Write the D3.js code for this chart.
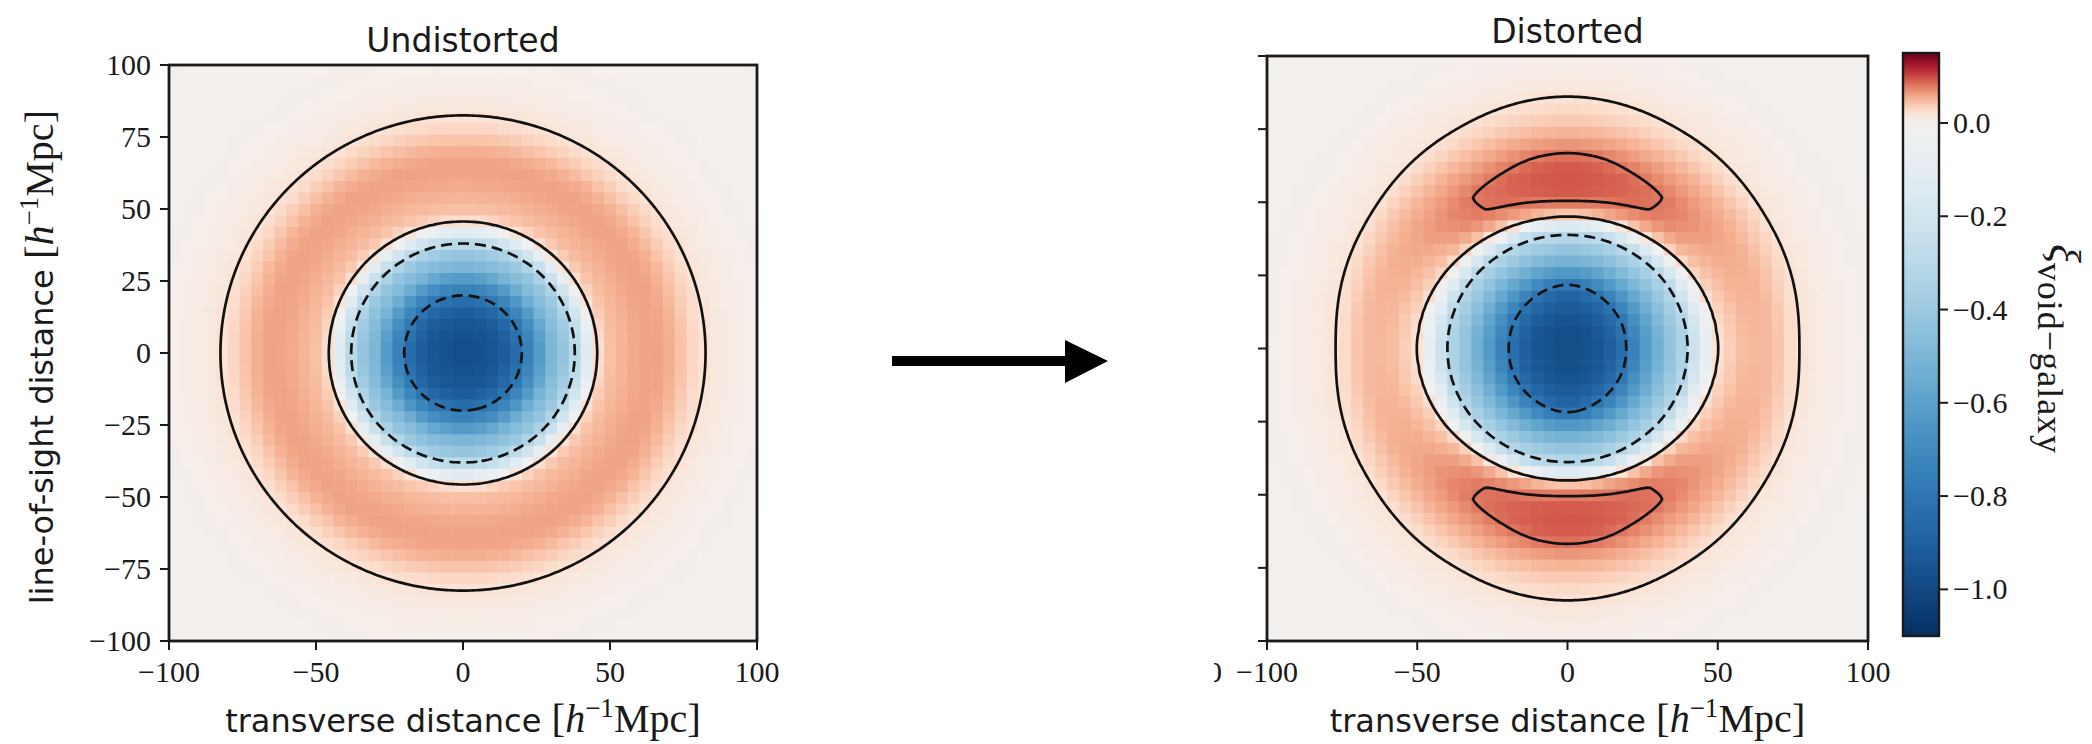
<!DOCTYPE html>
<html>
<head>
<meta charset="utf-8">
<script src="https://cdn.jsdelivr.net/npm/d3@7"></script>
<style>
body { margin: 0; background: #fff; }
svg text { fill: #1a1a1a; }
</style>
</head>
<body>
<div id="chart"></div>
<script>
const width = 2092, height = 744;

const xTicks = [-100, -50, 0, 50, 100];
const yTicks = [-100, -75, -50, -25, 0, 25, 50, 75, 100];
const cbarTicks = [-1.0, -0.8, -0.6, -0.4, -0.2, 0.0];
const colorDomain = [-1.1, 0, 0.15];
const dashedLevels = [-0.8, -0.3];
const solidLevels = [0.02, 0.08];
const cellSize = 4;

// xi(r), r in h^-1 Mpc
const radii = [0, 5, 10, 15, 20, 25, 30, 35, 40, 42.5, 45, 47.5, 50, 55, 60, 65, 70, 75, 80, 85, 90, 95, 100, 110, 120, 145];
const xiUndistorted = [-0.98, -0.97, -0.95, -0.90, -0.80, -0.66, -0.50, -0.40, -0.22, -0.10, 0.012, 0.034, 0.044, 0.052, 0.058, 0.060, 0.054, 0.040, 0.025, 0.016, 0.010, 0.007, 0.005, 0.003, 0.002, 0.001];

// distorted case: profiles along directions, angle measured from the line of sight
const losAngles = [0, 30, 60, 90];
const xiDistorted0 = [-0.99, -0.98, -0.96, -0.92, -0.85, -0.68, -0.52, -0.40, -0.26, -0.12, 0.02, 0.060, 0.078, 0.093, 0.094, 0.086, 0.066, 0.048, 0.033, 0.022, 0.014, 0.009, 0.006, 0.004, 0.002, 0.001];
const xiDistorted30 = [-0.985, -0.975, -0.955, -0.905, -0.82, -0.67, -0.52, -0.40, -0.27, -0.15, -0.005, 0.042, 0.062, 0.080, 0.081, 0.070, 0.057, 0.042, 0.027, 0.017, 0.012, 0.008, 0.005, 0.003, 0.002, 0.001];
const xiDistorted60 = [-0.98, -0.97, -0.95, -0.895, -0.80, -0.66, -0.525, -0.41, -0.29, -0.19, -0.07, 0.005, 0.034, 0.048, 0.055, 0.054, 0.046, 0.033, 0.019, 0.012, 0.008, 0.006, 0.004, 0.003, 0.002, 0.001];
const xiDistorted90 = [-0.98, -0.97, -0.95, -0.89, -0.79, -0.66, -0.53, -0.41, -0.30, -0.21, -0.11, -0.035, 0.02, 0.038, 0.048, 0.049, 0.042, 0.024, 0.016, 0.010, 0.007, 0.005, 0.004, 0.003, 0.002, 0.001];

const svg = d3.select("#chart").append("svg")
    .attr("width", width)
    .attr("height", height);

const color = d3.scaleDiverging()
    .domain(colorDomain)
    .interpolator(t => d3.interpolateRdBu(1 - t));

// monotone cubic through the read values (flat at both ends)
function monotone(xv, yv) {
    const n = xv.length, h = [], d = [], m = [];
    for (let k = 0; k < n - 1; k++) {
        h[k] = xv[k + 1] - xv[k];
        d[k] = (yv[k + 1] - yv[k]) / h[k];
    }
    m[0] = 0;
    m[n - 1] = 0;
    for (let k = 1; k < n - 1; k++) {
        m[k] = d[k - 1] * d[k] <= 0 ? 0 :
            3 * (h[k - 1] + h[k]) / ((2 * h[k] + h[k - 1]) / d[k - 1] + (h[k] + 2 * h[k - 1]) / d[k]);
    }
    return function(x) {
        if (x <= xv[0]) return yv[0];
        if (x >= xv[n - 1]) return yv[n - 1];
        let k = d3.bisectRight(xv, x) - 1;
        let t = (x - xv[k]) / h[k], t2 = t * t, t3 = t2 * t;
        return (2 * t3 - 3 * t2 + 1) * yv[k] + (t3 - 2 * t2 + t) * h[k] * m[k]
            + (-2 * t3 + 3 * t2) * yv[k + 1] + (t3 - t2) * h[k] * m[k + 1];
    };
}

const profUnd = monotone(radii, xiUndistorted);
const profDist = [xiDistorted0, xiDistorted30, xiDistorted60, xiDistorted90].map(arr => monotone(radii, arr));

function fieldUndistorted(x, y) {
    return profUnd(Math.hypot(x, y));
}

function fieldDistorted(x, y) {
    let r = Math.hypot(x, y);
    let th = Math.atan2(Math.abs(x), Math.abs(y)) * 180 / Math.PI;
    return monotone(losAngles, profDist.map(s => s(r)))(th);
}

const panels = [
    {id: "und", title: "Undistorted", x0: 169, x1: 757, y0: 65, y1: 641, titleY: 52, field: fieldUndistorted, yLabels: true},
    {id: "dist", title: "Distorted", x0: 1267, x1: 1868, y0: 56, y1: 641, titleY: 43, field: fieldDistorted, yLabels: false}
];

panels.forEach(drawPanel);

function drawPanel(p) {
    const xs = d3.scaleLinear().domain([-100, 100]).range([p.x0, p.x1]);
    const ys = d3.scaleLinear().domain([-100, 100]).range([p.y1, p.y0]);
    const cx = (p.x0 + p.x1) / 2;

    svg.append("clipPath").attr("id", "clip-" + p.id)
        .append("rect")
        .attr("x", p.x0).attr("y", p.y0)
        .attr("width", p.x1 - p.x0).attr("height", p.y1 - p.y0);

    const g = svg.append("g").attr("clip-path", "url(#clip-" + p.id + ")");

    // heatmap cells
    const centers = d3.range(-100 + cellSize / 2, 100, cellSize);
    const cells = [];
    centers.forEach(yc => centers.forEach(xc => cells.push({x: xc, y: yc, v: p.field(xc, yc)})));

    g.selectAll("rect.cell").data(cells).join("rect")
        .attr("class", "cell")
        .attr("x", d => xs(d.x - cellSize / 2))
        .attr("y", d => ys(d.y + cellSize / 2))
        .attr("width", d => xs(d.x + cellSize / 2) - xs(d.x - cellSize / 2) + 0.6)
        .attr("height", d => ys(d.y - cellSize / 2) - ys(d.y + cellSize / 2) + 0.6)
        .attr("fill", d => color(d.v));

    // contours on a finer sampling of the same field
    const n = 200, h = 200 / n;
    const vals = new Float64Array(n * n);
    for (let j = 0; j < n; j++) {
        for (let i = 0; i < n; i++) {
            vals[j * n + i] = p.field(-100 + (i + 0.5) * h, 100 - (j + 0.5) * h);
        }
    }
    const neg = vals.map(v => -v);
    const path = d3.geoPath(d3.geoTransform({
        point: function(x, y) { this.stream.point(xs(-100 + x * h), ys(100 - y * h)); }
    }));
    const gen = d3.contours().size([n, n]);

    solidLevels.forEach(l => {
        g.append("path")
            .attr("d", path(gen.contour(vals, l)))
            .attr("fill", "none")
            .attr("stroke", "#111")
            .attr("stroke-width", 2.7);
    });
    dashedLevels.forEach(l => {
        g.append("path")
            .attr("d", path(gen.contour(neg, -l)))
            .attr("fill", "none")
            .attr("stroke", "#111")
            .attr("stroke-width", 2.7)
            .attr("stroke-dasharray", "11,6");
    });

    // frame
    svg.append("rect")
        .attr("x", p.x0).attr("y", p.y0)
        .attr("width", p.x1 - p.x0).attr("height", p.y1 - p.y0)
        .attr("fill", "none")
        .attr("stroke", "#1a1a1a")
        .attr("stroke-width", 2.8);

    // x ticks
    const xa = svg.append("g");
    xa.selectAll("line").data(xTicks).join("line")
        .attr("x1", d => xs(d)).attr("x2", d => xs(d))
        .attr("y1", p.y1).attr("y2", p.y1 + 9)
        .attr("stroke", "#1a1a1a").attr("stroke-width", 2);
    xa.selectAll("text").data(xTicks).join("text")
        .attr("x", d => xs(d))
        .attr("y", 682)
        .attr("text-anchor", "middle")
        .style("font-family", "'Liberation Serif', serif")
        .style("font-size", "30px")
        .text(d => d3.format("d")(d).replace("-", "\u2212"));

    // y ticks
    const ya = svg.append("g");
    ya.selectAll("line").data(yTicks).join("line")
        .attr("x1", p.x0 - 9).attr("x2", p.x0)
        .attr("y1", d => ys(d)).attr("y2", d => ys(d))
        .attr("stroke", "#1a1a1a").attr("stroke-width", 2);
    if (p.yLabels) {
        ya.selectAll("text").data(yTicks).join("text")
            .attr("x", p.x0 - 18)
            .attr("y", d => ys(d) + 10)
            .attr("text-anchor", "end")
            .style("font-family", "'Liberation Serif', serif")
            .style("font-size", "30px")
            .text(d => d3.format("d")(d).replace("-", "\u2212"));

        axisLabel(svg.append("g").attr("transform", "translate(53,357) rotate(-90)"),
            "line-of-sight distance ");
    }

    axisLabel(svg.append("g").attr("transform", "translate(" + cx + ",732)"),
        "transverse distance ");

    svg.append("text")
        .attr("x", cx)
        .attr("y", p.titleY)
        .attr("text-anchor", "middle")
        .style("font-family", "'DejaVu Sans', sans-serif")
        .style("font-size", "33px")
        .text(p.title);
}

function axisLabel(g, words) {
    const t = g.append("text")
        .attr("text-anchor", "middle")
        .style("font-family", "'DejaVu Sans', sans-serif")
        .style("font-size", "32px");
    t.append("tspan").text(words);
    t.append("tspan").style("font-family", "'Liberation Serif', serif").style("font-size", "41px").text("[");
    t.append("tspan").style("font-family", "'Liberation Serif', serif").style("font-size", "40px").style("font-style", "italic").text("h");
    t.append("tspan").style("font-family", "'Liberation Serif', serif").style("font-size", "27px").attr("dy", -15).text("\u22121");
    t.append("tspan").style("font-family", "'Liberation Serif', serif").style("font-size", "40px").attr("dy", 15).text("Mpc");
    t.append("tspan").style("font-family", "'Liberation Serif', serif").style("font-size", "41px").text("]");
}

// arrow between the panels
svg.append("rect")
    .attr("x", 892).attr("y", 356)
    .attr("width", 176).attr("height", 10)
    .attr("fill", "#000");
svg.append("path")
    .attr("d", "M1065,340 L1108,361 L1065,383 Z")
    .attr("fill", "#000");

// colorbar
const cb = {x0: 1903, x1: 1939, y0: 53, y1: 636};
const cy = d3.scaleLinear().domain([colorDomain[0], colorDomain[2]]).range([cb.y1, cb.y0]);

const grad = svg.append("defs").append("linearGradient")
    .attr("id", "cbar")
    .attr("x1", 0).attr("y1", 1).attr("x2", 0).attr("y2", 0);
grad.selectAll("stop").data(d3.ticks(colorDomain[0], colorDomain[2], 120)).join("stop")
    .attr("offset", d => (d - colorDomain[0]) / (colorDomain[2] - colorDomain[0]))
    .attr("stop-color", d => color(d));

svg.append("rect")
    .attr("x", cb.x0).attr("y", cb.y0)
    .attr("width", cb.x1 - cb.x0).attr("height", cb.y1 - cb.y0)
    .attr("fill", "url(#cbar)")
    .attr("stroke", "#1a1a1a")
    .attr("stroke-width", 2.4);

const ca = svg.append("g");
ca.selectAll("line").data(cbarTicks).join("line")
    .attr("x1", cb.x1).attr("x2", cb.x1 + 9)
    .attr("y1", d => cy(d)).attr("y2", d => cy(d))
    .attr("stroke", "#1a1a1a").attr("stroke-width", 2);
ca.selectAll("text").data(cbarTicks).join("text")
    .attr("x", cb.x1 + 14)
    .attr("y", d => cy(d) + 10)
    .style("font-family", "'Liberation Serif', serif")
    .style("font-size", "30px")
    .text(d => d3.format(".1f")(d).replace("-", "\u2212"));

const cl = svg.append("text")
    .attr("transform", "translate(2050,244) rotate(90)")
    .style("font-family", "'Liberation Serif', serif");
cl.append("tspan").style("font-size", "44px").style("font-style", "italic").text("\u03be");
cl.append("tspan").style("font-size", "36px").style("letter-spacing", "1px").attr("dy", 12).text("void\u2212galaxy");

// clipped remnant of a neighbouring label, left of the second panel's axis
svg.append("clipPath").attr("id", "clip-stub")
    .append("rect").attr("x", 1214).attr("y", 640).attr("width", 8).attr("height", 60);
svg.append("text")
    .attr("clip-path", "url(#clip-stub)")
    .attr("x", 1222).attr("y", 682)
    .attr("text-anchor", "end")
    .style("font-family", "'Liberation Serif', serif")
    .style("font-size", "30px")
    .text("0");
</script>
</body>
</html>
